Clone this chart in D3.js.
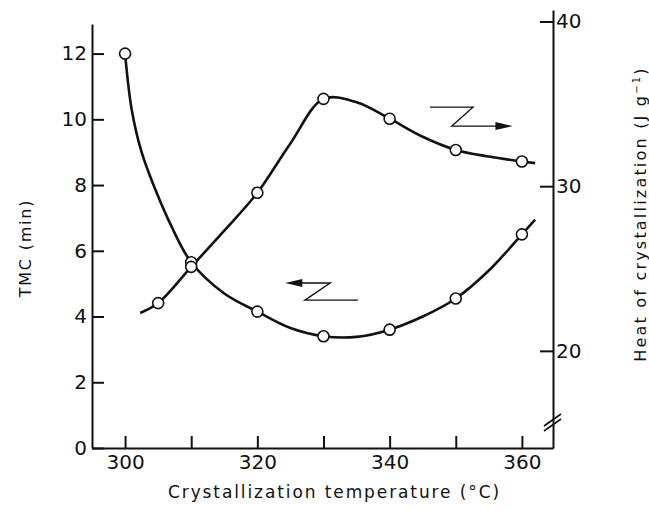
<!DOCTYPE html>
<html lang="en">
  <head>
    <meta charset="utf-8">
    <title>TMC and heat of crystallization</title>
    <script src="https://d3js.org/d3.v7.min.js"></script>
    <style>
      body { margin: 0; background: #fff; }
      svg text { font-family: "DejaVu Sans", sans-serif; fill: #111; }
      .tick text { font-size: 20px; }
      .axis path, .axis line { stroke: #111; stroke-width: 2; }
    </style>
  </head>
  <body>
    <svg id="chart" width="649" height="510"></svg>
<script>

// data
var temps = [300, 310, 320, 330, 340, 350, 360];
var tmc = [12, 5.65, 4.15, 3.4, 3.6, 4.55, 6.5];
var heatTemps = [305, 310, 320, 330, 340, 350, 360];
var heat = [22.9, 25.1, 29.6, 35.3, 34.1, 32.2, 31.5];

// the hand drawn smooth curves
var tmcCurveT = [300, 301, 302.5, 304.5, 307, 310, 315, 320, 325, 330, 335, 340, 345, 350, 355, 360, 362];
var tmcCurveV = [12, 10.3, 9, 7.9, 6.75, 5.65, 4.7, 4.15, 3.65, 3.4, 3.38, 3.6, 4.0, 4.55, 5.4, 6.5, 6.95];
var heatCurveT = [302.3, 305, 310, 315, 320, 325, 330, 335, 340, 345, 350, 355, 360, 362];
var heatCurveV = [22.3, 22.9, 25.1, 27.3, 29.6, 32.6, 35.3, 35.1, 34.1, 33.0, 32.2, 31.8, 31.5, 31.4];

var xTicks = [300, 310, 320, 330, 340, 350, 360];
var xLabels = [300, 320, 340, 360];
var leftTicks = [0, 2, 4, 6, 8, 10, 12];
var rightTicks = [20, 30, 40];

var svg = d3.select("#chart");

// scales
var x = d3.scaleLinear().domain([295, 364.7]).range([92, 553]);
var yL = d3.scaleLinear().domain([0, 12.9]).range([448, 24]);
var yR = d3.scaleLinear().domain([14.1, 40.7]).range([448, 10]);

// x axis
svg.append("g")
  .attr("class", "axis")
  .attr("transform", "translate(0," + yL(0) + ")")
  .call(d3.axisBottom(x)
    .tickValues(xTicks)
    .tickSizeInner(-12)
    .tickSizeOuter(0)
    .tickPadding(7)
    .tickFormat(function (d) { return xLabels.indexOf(d) >= 0 ? d : ""; }));

// left axis
svg.append("g")
  .attr("class", "axis")
  .attr("transform", "translate(" + x(295) + ",0)")
  .call(d3.axisLeft(yL)
    .tickValues(leftTicks)
    .tickSizeInner(-12)
    .tickSizeOuter(0)
    .tickPadding(5));

// right axis (ticks point inward, labels outside)
svg.append("g")
  .attr("class", "axis")
  .attr("transform", "translate(" + x(364.7) + ",0)")
  .call(d3.axisRight(yR)
    .tickValues(rightTicks)
    .tickSizeInner(-13)
    .tickSizeOuter(0)
    .tickPadding(3));

// axis break on the right
[0, 5].forEach(function (off) {
  svg.append("line")
    .attr("x1", x(364.7) - 9).attr("y1", yR(15.8) + 6 + off)
    .attr("x2", x(364.7) + 8).attr("y2", yR(15.8) - 6 + off)
    .attr("stroke", "#111").attr("stroke-width", 1.6);
});

// curves
var line = d3.line().curve(d3.curveCatmullRom.alpha(0.5));

svg.append("path")
  .attr("d", line(tmcCurveT.map(function (t, i) { return [x(t), yL(tmcCurveV[i])]; })))
  .attr("fill", "none").attr("stroke", "#111").attr("stroke-width", 2.6);

svg.append("path")
  .attr("d", line(heatCurveT.map(function (t, i) { return [x(t), yR(heatCurveV[i])]; })))
  .attr("fill", "none").attr("stroke", "#111").attr("stroke-width", 2.6);

// points
svg.append("g").selectAll("circle")
  .data(temps)
  .enter().append("circle")
  .attr("cx", function (d) { return x(d); })
  .attr("cy", function (d, i) { return yL(tmc[i]); })
  .attr("r", 5.5)
  .attr("fill", "#fff").attr("stroke", "#111").attr("stroke-width", 1.6);

svg.append("g").selectAll("circle")
  .data(heatTemps)
  .enter().append("circle")
  .attr("cx", function (d) { return x(d); })
  .attr("cy", function (d, i) { return yR(heat[i]); })
  .attr("r", 5.5)
  .attr("fill", "#fff").attr("stroke", "#111").attr("stroke-width", 1.6);

// "Z" arrows pointing at the axis each curve belongs to
function zArrow(pts, head) {
  svg.append("path")
    .attr("d", d3.line()(pts))
    .attr("fill", "none").attr("stroke", "#111").attr("stroke-width", 1.4);
  svg.append("path")
    .attr("d", d3.line()(head) + "Z")
    .attr("fill", "#111");
}
// right pointing one (heat)
zArrow([[x(346.1), yR(34.8)], [x(352.6), yR(34.8)], [x(349.4), yR(33.65)], [x(357), yR(33.65)]],
  [[x(358.6), yR(33.65)], [x(356), yR(33.65) - 4], [x(356), yR(33.65) + 4]]);
// left pointing one (TMC)
zArrow([[x(325.5), yL(5.02)], [x(331.0), yL(5.02)], [x(327.2), yL(4.5)], [x(335.2), yL(4.5)]],
  [[x(324.2), yL(5.02)], [x(326.8), yL(5.02) - 4], [x(326.8), yL(5.02) + 4]]);

// axis titles
svg.append("text")
  .attr("x", (x(295) + x(364.7)) / 2 + 12).attr("y", 498)
  .attr("text-anchor", "middle")
  .style("font-size", "17px").style("letter-spacing", "1.9px")
  .text("Crystallization temperature (°C)");

svg.append("text")
  .attr("transform", "translate(31,248) rotate(-90)")
  .attr("text-anchor", "middle")
  .style("font-size", "16px").style("letter-spacing", "1.8px")
  .text("TMC (min)");

var ht = svg.append("text")
  .attr("transform", "translate(646,214) rotate(-90)")
  .attr("text-anchor", "middle")
  .style("font-size", "16px").style("letter-spacing", "2.2px");
ht.append("tspan").text("Heat of crystallization (J g");
ht.append("tspan").attr("dy", -6).style("font-size", "10px").text("−1");
ht.append("tspan").attr("dy", 6).text(")");

</script>
  </body>
</html>
